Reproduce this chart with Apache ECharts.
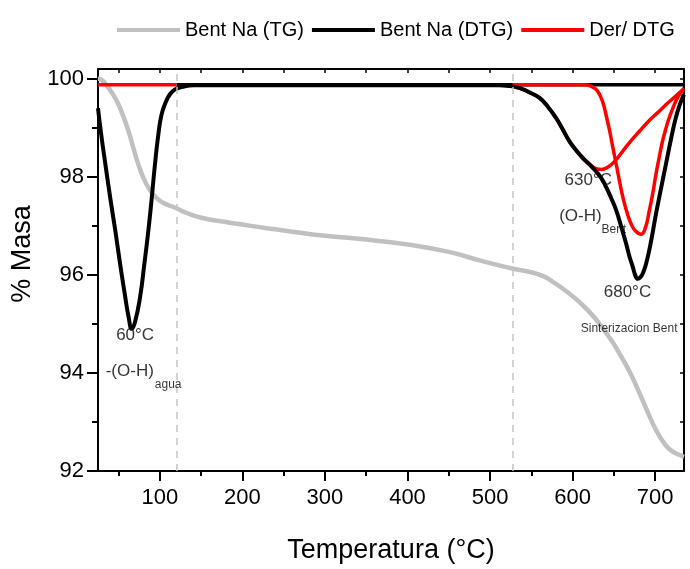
<!DOCTYPE html>
<html>
<head>
<meta charset="utf-8">
<title>Bent Na TG / DTG</title>
<script src="https://cdn.jsdelivr.net/npm/echarts@6/dist/echarts.min.js"></script>
<style>
  html, body { margin: 0; padding: 0; background: #fff; }
  #chartDom { width: 690px; height: 569px; }
</style>
</head>
<body>
<div id="chartDom"></div>
<script>
//--------------------------------------------------------------------------
// data
//--------------------------------------------------------------------------
// Bent Na (TG)
const tgTemp = [25, 30, 38, 45, 50, 56, 62, 68, 74, 80, 86, 92, 98, 105, 112, 120, 130, 143, 160, 183,
  210, 240, 270, 300, 350, 400, 450, 480, 500, 527, 551, 565, 576, 592, 608, 628, 648, 660, 669, 680,
  689, 701, 713, 722, 729, 735]
const tgMass = [100.0, 99.97, 99.81, 99.63, 99.47, 99.22, 98.93, 98.58, 98.25, 97.98, 97.78, 97.64, 97.54, 97.46, 97.41, 97.36, 97.28, 97.2, 97.13, 97.07,
  97.0, 96.93, 96.86, 96.8, 96.72, 96.62, 96.47, 96.33, 96.24, 96.13, 96.05, 95.97, 95.86, 95.67, 95.45, 95.1, 94.64, 94.3, 94.03, 93.63,
  93.28, 92.84, 92.52, 92.39, 92.33, 92.29]

// Bent Na (DTG)
const dtgTemp = [25, 29, 34, 40, 46, 52, 58, 62, 66, 70, 76, 81, 86, 90, 94, 98, 102, 107, 112, 118, 126, 141,
  300, 511, 520, 536, 548, 560, 570, 580, 588, 596, 604, 612, 620, 628, 635, 641, 647, 653, 659, 665, 669, 673,
  676, 679, 682, 685, 689, 695, 701, 707, 713, 719, 725, 730, 735]
const dtgMass = [99.4, 98.85, 98.25, 97.55, 96.9, 96.2, 95.55, 95.15, 94.9, 95.05, 95.55, 96.2, 96.9, 97.55, 98.25, 98.85, 99.27, 99.52, 99.68, 99.78, 99.83, 99.87,
  99.87, 99.87, 99.86, 99.81, 99.72, 99.61, 99.43, 99.2, 98.97, 98.73, 98.55, 98.39, 98.26, 98.12, 97.97, 97.78, 97.56, 97.31, 96.98, 96.63, 96.37, 96.16,
  95.99, 95.92, 95.95, 96.03, 96.22, 96.68, 97.24, 97.75, 98.25, 98.75, 99.2, 99.48, 99.68]

// DTG base line
const baseTemp = [120, 735]
const baseMass = [99.88, 99.88]

// Der/ DTG (deconvolution)
const derLeftTemp = [25, 120]
const derLeftMass = [99.88, 99.88]
const derBroadTemp = [527, 536, 548, 560, 570, 580, 588, 596, 604, 612, 620, 627, 635, 642, 650, 657, 668, 681, 693, 705, 715, 725, 735]
const derBroadMass = [99.85, 99.81, 99.72, 99.61, 99.43, 99.2, 98.97, 98.73, 98.55, 98.39, 98.27, 98.18, 98.15, 98.19, 98.3, 98.44, 98.68, 98.93, 99.15, 99.34, 99.5, 99.65, 99.8]
const derNarrowTemp = [527, 615, 622, 628, 633, 637, 641, 645, 649, 653, 657, 661, 666, 671, 676, 683, 688, 693, 697, 701, 705, 709, 713, 717, 722, 727, 731, 735]
const derNarrowMass = [99.88, 99.88, 99.85, 99.79, 99.67, 99.5, 99.23, 98.93, 98.58, 98.25, 97.9, 97.58, 97.27, 97.04, 96.9, 96.83, 96.95, 97.31, 97.65, 98.05, 98.4, 98.73, 98.98, 99.2, 99.42, 99.61, 99.71, 99.8]

// guide lines and ticks
const guideTemps = [120, 527]
const xTicks = [100, 200, 300, 400, 500, 600, 700]
const xMinorTicks = [50, 150, 250, 350, 450, 550, 650]
const xTopTicks = [50, 100, 150, 200, 250, 300, 350, 400, 450, 500, 550, 600, 650, 700]
const yTicks = [92, 94, 96, 98, 100]
const yMinorTicks = [93, 95, 97, 99]
const yRightTicks = [92, 93, 94, 95, 96, 97, 98, 99, 100]

//--------------------------------------------------------------------------
// helpers
//--------------------------------------------------------------------------
const FONT = 'Liberation Sans, Arial, sans-serif'
const zip = (xs, ys) => xs.map((x, i) => [x, ys[i]])

function lineSeries(name, xs, ys, color, width, z) {
  return {
    name: name,
    type: 'line',
    data: zip(xs, ys),
    smooth: 0.5,
    showSymbol: false,
    symbol: 'none',
    lineStyle: { color: color, width: width },
    itemStyle: { color: color },
    z: z
  }
}

function note(x, y, text, size) {
  return {
    value: [x, y],
    label: { show: true, formatter: text, fontSize: size, color: '#000' }
  }
}

const xRange = { min: 25, max: 735 }
const yRange = { min: 92, max: 100.2 }
const axisColor = '#000'

//--------------------------------------------------------------------------
// option
//--------------------------------------------------------------------------
const option = {
  animation: false,
  backgroundColor: '#fff',
  textStyle: { fontFamily: FONT },
  grid: { left: 98, top: 69, width: 586, height: 404, containLabel: false },
  legend: {
    data: ['Bent Na (TG)', 'Bent Na (DTG)', 'Der/ DTG'],
    left: 112,
    top: 15,
    icon: 'rect',
    itemWidth: 63,
    itemHeight: 4,
    itemGap: 8,
    textStyle: { fontSize: 20, color: '#000', fontFamily: FONT }
  },
  xAxis: [
    {
      type: 'value', position: 'bottom', ...xRange,
      name: 'Temperatura (°C)', nameLocation: 'middle', nameGap: 66,
      nameTextStyle: { fontSize: 27, color: '#000', fontFamily: FONT },
      axisLine: { onZero: false, lineStyle: { color: axisColor, width: 2 } },
      axisTick: { customValues: xTicks, length: 10, lineStyle: { color: axisColor, width: 2 } },
      axisLabel: { customValues: xTicks, fontSize: 22, color: '#000', margin: 16 },
      splitLine: { show: false }
    },
    {
      type: 'value', position: 'bottom', ...xRange,
      axisLine: { show: false, onZero: false },
      axisTick: { customValues: xMinorTicks, length: 5, lineStyle: { color: axisColor, width: 2 } },
      axisLabel: { show: false },
      splitLine: { show: false }
    },
    {
      type: 'value', position: 'top', ...xRange,
      axisLine: { onZero: false, lineStyle: { color: axisColor, width: 2 } },
      axisTick: { inside: true, customValues: xTopTicks, length: 4, lineStyle: { color: axisColor, width: 1.5 } },
      axisLabel: { show: false },
      splitLine: { show: false }
    }
  ],
  yAxis: [
    {
      type: 'value', position: 'left', ...yRange,
      name: '% Masa', nameLocation: 'middle', nameGap: 56,
      nameTextStyle: { fontSize: 27, color: '#000', fontFamily: FONT, padding: [0, 0, 0, 32] },
      axisLine: { onZero: false, lineStyle: { color: axisColor, width: 2 } },
      axisTick: { customValues: yTicks, length: 11, lineStyle: { color: axisColor, width: 2 } },
      axisLabel: { customValues: yTicks, fontSize: 22, color: '#000', margin: 14 },
      splitLine: { show: false }
    },
    {
      type: 'value', position: 'left', ...yRange,
      axisLine: { show: false, onZero: false },
      axisTick: { customValues: yMinorTicks, length: 6, lineStyle: { color: axisColor, width: 2 } },
      axisLabel: { show: false },
      splitLine: { show: false }
    },
    {
      type: 'value', position: 'right', ...yRange,
      axisLine: { onZero: false, lineStyle: { color: axisColor, width: 2 } },
      axisTick: { inside: true, customValues: yRightTicks, length: 4, lineStyle: { color: axisColor, width: 1.5 } },
      axisLabel: { show: false },
      splitLine: { show: false }
    }
  ],
  series: [
    lineSeries('Bent Na (TG)', tgTemp, tgMass, '#c0c0c0', 4.5, 1),
    Object.assign(lineSeries('Bent Na (DTG)', baseTemp, baseMass, '#000', 3.5, 2), {
      markLine: {
        silent: true,
        symbol: 'none',
        label: { show: false },
        lineStyle: { color: '#c4c4c4', width: 1.5, type: [7, 6] },
        data: guideTemps.map((t) => ({ xAxis: t }))
      }
    }),
    lineSeries('Der/ DTG', derLeftTemp, derLeftMass, '#ff0000', 3.5, 3),
    lineSeries('Der/ DTG', derBroadTemp, derBroadMass, '#ff0000', 3.5, 3),
    lineSeries('Der/ DTG', derNarrowTemp, derNarrowMass, '#ff0000', 3.5, 3),
    lineSeries('Bent Na (DTG)', dtgTemp, dtgMass, '#000', 4, 4),
    {
      type: 'scatter',
      silent: true,
      symbolSize: 1,
      itemStyle: { color: 'transparent' },
      label: { show: true, position: 'inside', color: '#000', fontFamily: FONT },
      z: 5,
      data: [
        note(70, 94.76, '60°C', 17),
        note(63.5, 94.03, '-(O-H)', 17),
        note(110, 93.76, 'agua', 12),
        note(619, 97.93, '630°C', 17),
        note(609.5, 97.2, '(O-H)', 17),
        note(650, 96.93, 'Bent', 12),
        note(666.5, 95.65, '680°C', 17),
        note(668.5, 94.9, 'Sinterizacion Bent', 12)
      ]
    }
  ]
}

const myChart = echarts.init(document.getElementById('chartDom'), null, { renderer: 'canvas' })
myChart.setOption(option)
</script>
</body>
</html>
